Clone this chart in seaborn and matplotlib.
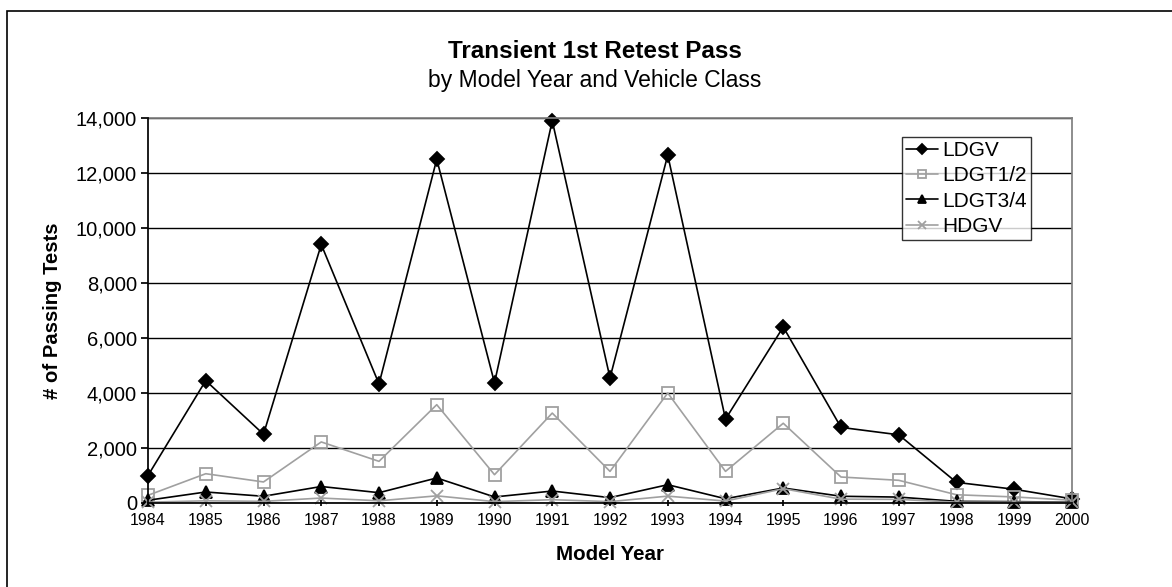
import matplotlib
matplotlib.use("Agg")
import matplotlib.pyplot as plt
import seaborn as sns
import pandas as pd
from matplotlib.patches import Rectangle
from matplotlib.ticker import FuncFormatter

# data
years = list(range(1984, 2001))
ldgv = [1000, 4450, 2500, 9400, 4330, 12500, 4370, 13900, 4550, 12650,
        3050, 6400, 2750, 2480, 750, 500, 150]
ldgt12 = [280, 1065, 765, 2220, 1515, 3575, 1030, 3270, 1150, 4000,
          1150, 2900, 945, 825, 300, 220, 100]
ldgt34 = [100, 400, 245, 600, 375, 910, 220, 435, 195, 665,
          155, 545, 245, 215, 60, 50, 30]
hdgv = [30, 80, 60, 180, 80, 260, 50, 120, 50, 250,
        70, 520, 140, 130, 30, 30, 20]

sns.set_theme(style="white")
plt.rcParams['font.family'] = ['Liberation Sans', 'DejaVu Sans']
plt.rcParams.update({"text.color": "black", "axes.labelcolor": "black",
                     "xtick.color": "black", "ytick.color": "black"})

fig = plt.figure(figsize=(11.72, 5.87), dpi=100)
ax = fig.add_axes([148 / 1172, 1 - 503 / 587, (1072 - 148) / 1172, 385 / 587])

series = [
    ("LDGV", ldgv, "black", "D", "black", 7),
    ("LDGT1/2", ldgt12, "#a0a0a0", "s", "none", 9),
    ("LDGT3/4", ldgt34, "black", "^", "black", 8.5),
    ("HDGV", hdgv, "#a0a0a0", "x", "#a0a0a0", 9),
]
for name, vals, col, mk, fc, ms in series:
    df = pd.DataFrame({"year": years, "val": vals})
    sns.lineplot(data=df, x="year", y="val", ax=ax, color=col, marker=mk,
                 markersize=ms, markerfacecolor=fc, markeredgecolor=col,
                 markeredgewidth=1.3, linewidth=1.2, label=name, clip_on=False)

ax.set_xlim(1984, 2000)
ax.set_ylim(0, 14000)
ax.set_xticks(years)
ax.set_xticklabels([str(y) for y in years], fontsize=11.5)
ax.set_yticks(range(0, 14001, 2000))
ax.yaxis.set_major_formatter(FuncFormatter(lambda v, p: f"{int(v):,}"))
ax.tick_params(axis="y", labelsize=14.5, length=5, direction="out", left=True,
               color="black", labelcolor="black", pad=3)
ax.tick_params(axis="x", length=5, direction="inout", bottom=True, color="black",
               labelcolor="black", pad=5)
ax.grid(axis="y", color="black", linewidth=1)
ax.grid(axis="x", visible=False)
for s in ["top", "right"]:
    ax.spines[s].set_color("#808080")
for s in ["left", "bottom"]:
    ax.spines[s].set_color("black")
    ax.spines[s].set_zorder(5)

ax.set_xlabel("Model Year", fontsize=14.8, fontweight="bold", labelpad=12, color="black")
ax.set_ylabel("# of Passing Tests", fontsize=14.6, fontweight="bold", labelpad=10,
              color="black")

fig.text(595 / 1172, 1 - 52 / 587, "Transient 1st Retest Pass", ha="center", va="center",
         fontsize=17.5, fontweight="bold", color="black")
fig.text(595 / 1172, 1 - 80 / 587, "by Model Year and Vehicle Class", ha="center",
         va="center", fontsize=16.5, color="black")

leg = ax.legend(loc="upper left", bbox_to_anchor=((902 - 148) / 924, 1 - (137 - 118) / 385),
                frameon=True, fancybox=False, fontsize=15, borderpad=0.2,
                handlelength=1.55, handletextpad=0.2, labelspacing=0.3,
                markerscale=0.7, borderaxespad=0)
leg.get_frame().set_edgecolor("black")
leg.get_frame().set_linewidth(1)
for t in leg.get_texts():
    t.set_color("black")

# outer chart-area frame (right and bottom edges fall outside the image)
fig.patches.append(Rectangle((7 / 1172, -0.05), 1.2, 1.05 - 11 / 587,
                             transform=fig.transFigure, fill=False,
                             edgecolor="black", linewidth=1.2))

fig.savefig("out.png", dpi=100)
